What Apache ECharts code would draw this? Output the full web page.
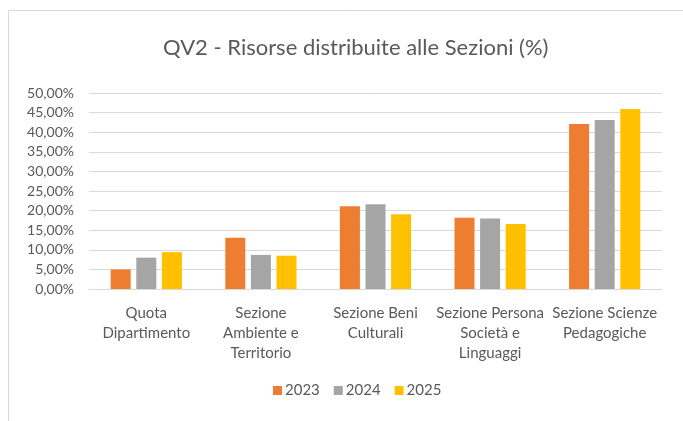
<!DOCTYPE html>
<html>
<head>
<meta charset="utf-8">
<script src="https://cdn.jsdelivr.net/npm/echarts@6/dist/echarts.min.js"></script>
<style>
  html, body { margin: 0; padding: 0; background: #fff; }
  #chart { width: 683px; height: 421px; }
</style>
</head>
<body>
<div id="chart"></div>
<script>
// dati (percentuali)
var categories = ['Quota\nDipartimento', 'Sezione\nAmbiente e\nTerritorio', 'Sezione Beni\nCulturali', 'Sezione Persona\nSocietà e\nLinguaggi', 'Sezione Scienze\nPedagogiche'];
var years = ['2023', '2024', '2025'];
var v2023 = [5.0, 13.1, 21.1, 18.2, 42.1];
var v2024 = [8.0, 8.7, 21.6, 18.0, 43.1];
var v2025 = [9.4, 8.5, 19.1, 16.6, 45.9];
var colors = ['#ed7d31', '#a5a5a5', '#ffc000'];

var chart = echarts.init(document.getElementById('chart'));
var font = 'Lato, "Open Sans", sans-serif';

function serie(name, data, color) {
  return {
    name: name,
    type: 'bar',
    data: data,
    barWidth: 20,
    barGap: '28%',
    itemStyle: { color: color },
    emphasis: { disabled: true }
  };
}

chart.setOption({
  animation: false,
  color: colors,
  textStyle: { fontFamily: font },
  graphic: [{
    type: 'rect',
    shape: { x: 8.5, y: 10.5, width: 700, height: 430 },
    style: { fill: null, stroke: '#d9d9d9', lineWidth: 1 },
    silent: true
  }],
  title: {
    text: 'QV2 - Risorse distribuite alle Sezioni (%)',
    left: 158,
    top: 32,
    textStyle: { fontFamily: font, fontSize: 22, fontWeight: 'normal', color: '#595959' }
  },
  legend: {
    data: years,
    bottom: 18,
    left: 268,
    itemWidth: 9,
    itemHeight: 9,
    itemGap: 14,
    icon: 'rect',
    textStyle: { fontFamily: font, fontSize: 15, color: '#595959', padding: [0, 0, 0, -2] }
  },
  grid: { left: 89, right: 21, top: 93, bottom: 132 },
  xAxis: {
    type: 'category',
    data: categories,
    axisTick: { show: false },
    axisLine: { lineStyle: { color: '#d9d9d9', width: 1 } },
    axisLabel: {
      interval: 0,
      margin: 14,
      lineHeight: 20,
      fontFamily: font,
      fontSize: 15,
      color: '#595959'
    }
  },
  yAxis: {
    type: 'value',
    min: 0,
    max: 50,
    interval: 5,
    axisLine: { show: false },
    axisTick: { show: false },
    splitLine: { lineStyle: { color: '#d9d9d9', width: 1 } },
    axisLabel: {
      margin: 15,
      fontFamily: font,
      fontSize: 14,
      color: '#595959',
      formatter: function (v) { return v.toFixed(2).replace('.', ',') + '%'; }
    }
  },
  series: [
    serie(years[0], v2023, colors[0]),
    serie(years[1], v2024, colors[1]),
    serie(years[2], v2025, colors[2])
  ]
});
</script>
</body>
</html>
